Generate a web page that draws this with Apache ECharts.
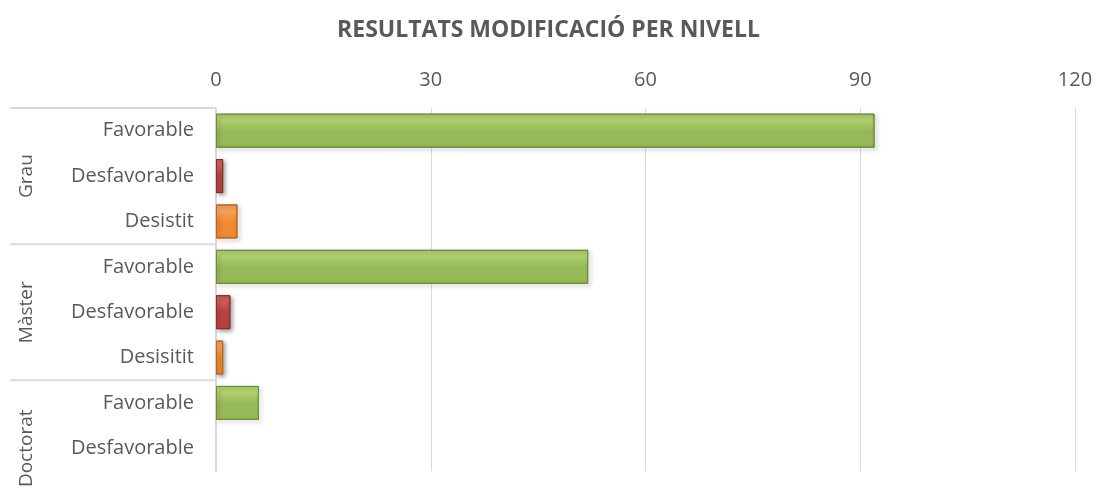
<!DOCTYPE html>
<html><head><meta charset="utf-8">
<script src="https://cdn.jsdelivr.net/npm/echarts@6/dist/echarts.min.js"></script>
<style>html,body{margin:0;padding:0;background:#fff}#c{width:1097px;height:491px}</style>
</head><body><div id="c"></div>
<script>
const title = 'RESULTATS MODIFICACIÓ PER NIVELL';
const groups = ['Grau', 'Màster', 'Doctorat'];
const groupStart = [0, 3, 6];
const categories = ['Favorable', 'Desfavorable', 'Desistit', 'Favorable', 'Desfavorable', 'Desisitit', 'Favorable', 'Desfavorable'];
const kinds = ['fav', 'desf', 'desist', 'fav', 'desf', 'desist', 'fav', 'desf'];
const values = [92, 1, 3, 52, 2, 1, 6, 0];
const xTicks = [0, 30, 60, 90, 120];

const FONT = '"Open Sans", "Liberation Sans", sans-serif';
const TXT = '#595959';
const styles = {
  fav: {top: '#b2d474', bot: '#98b957', border: '#6e8c38'},
  desf: {top: '#d0605c', bot: '#b9423f', border: '#8a2c2a'},
  desist: {top: '#f9a75e', bot: '#f08a33', border: '#b8661f'}
};
const data = values.map((v, i) => {
  const s = styles[kinds[i]];
  const visible = v !== 0;
  return {
    value: v,
    itemStyle: {
      color: new echarts.graphic.LinearGradient(0, 0, 0, 1, [
        {offset: 0, color: s.top}, {offset: 0.15, color: s.top},
        {offset: 0.5, color: s.bot}, {offset: 1, color: s.bot}
      ]),
      borderColor: s.border, borderWidth: visible ? 1 : 0,
      shadowColor: visible ? 'rgba(0,0,0,0.35)' : 'rgba(0,0,0,0)', shadowBlur: 4, shadowOffsetX: 2, shadowOffsetY: 2
    }
  };
});

const chart = echarts.init(document.getElementById('c'), null, {renderer: 'canvas'});
chart.setOption({
  animation: false,
  backgroundColor: '#fff',
  title: {text: title, left: 'center', top: 14,
    textStyle: {fontFamily: FONT, fontSize: 23, fontWeight: 'bold', color: TXT}},
  grid: {left: 216, right: 22, top: 108, bottom: 20, containLabel: false},
  xAxis: {type: 'value', position: 'top', min: xTicks[0], max: xTicks[xTicks.length - 1], interval: 30,
    axisLine: {show: false}, axisTick: {show: false},
    axisLabel: {margin: 18, fontFamily: FONT, fontSize: 20, color: TXT},
    splitLine: {lineStyle: {color: '#d9d9d9', width: 1}}},
  yAxis: {type: 'category', inverse: true, data: categories,
    axisLine: {show: true, lineStyle: {color: '#d9d9d9', width: 2}},
    axisTick: {show: false},
    axisLabel: {margin: 22, fontFamily: FONT, fontSize: 20, color: TXT}},
  series: [{type: 'bar', data: data, barCategoryGap: '25%'}]
});

const band = chart.convertToPixel({yAxisIndex: 0}, 1) - chart.convertToPixel({yAxisIndex: 0}, 0);
const graphics = [];
groups.forEach((g, gi) => {
  const s = groupStart[gi];
  const yTop = chart.convertToPixel({yAxisIndex: 0}, s) - band / 2;
  graphics.push({type: 'line', shape: {x1: 10, y1: yTop, x2: 216, y2: yTop},
    style: {stroke: '#d9d9d9', lineWidth: 2}, silent: true});
  const yc = chart.convertToPixel({yAxisIndex: 0}, s + 1);
  graphics.push({type: 'text', x: 27, y: yc, rotation: Math.PI / 2,
    style: {text: g, fontFamily: FONT, fontSize: 19, fill: TXT, align: 'center', verticalAlign: 'middle'}});
});
chart.setOption({graphic: graphics});
</script></body></html>
